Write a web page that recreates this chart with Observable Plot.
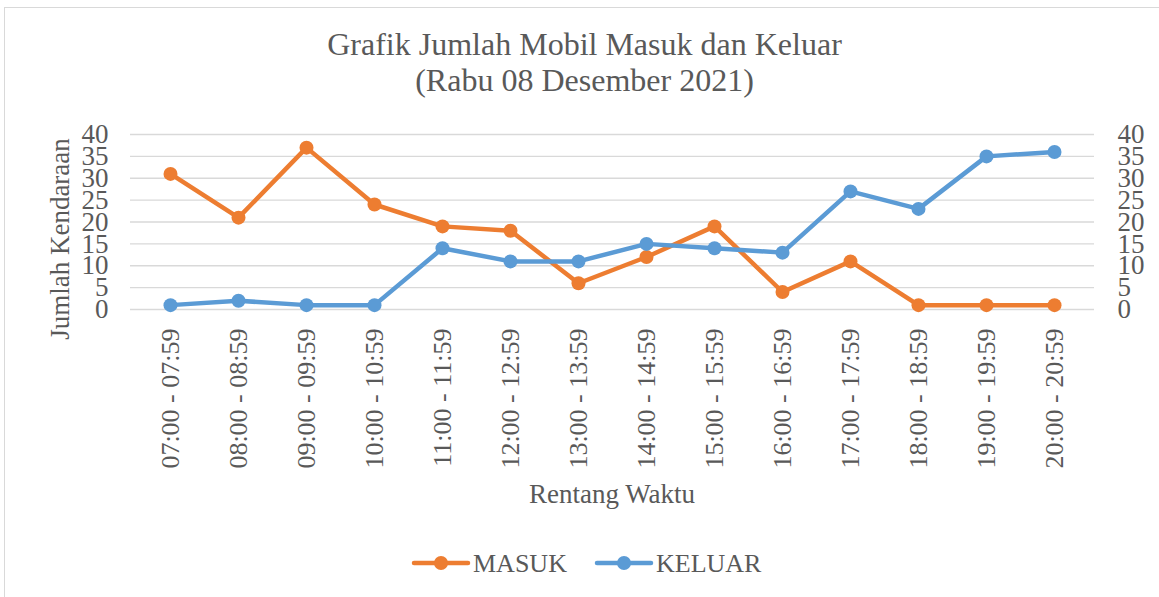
<!DOCTYPE html>
<html>
<head>
<meta charset="utf-8">
<script src="https://cdn.jsdelivr.net/npm/d3@7"></script>
<script src="https://cdn.jsdelivr.net/npm/@observablehq/plot@0.6"></script>
<style>
  body { margin: 0; background: #fff; font-family: "Liberation Serif", "Times New Roman", serif; }
  #wrap { position: relative; width: 1159px; height: 597px; overflow: hidden; }
  #frame { position: absolute; left: 4px; top: 7px; width: 1160px; height: 600px; border: 1px solid #d9d9d9; box-sizing: border-box; }
  .t { position: absolute; color: #595959; white-space: nowrap; font-family: "Liberation Serif", serif; }
  #plot { position: absolute; left: 0; top: 0; }
</style>
</head>
<body>
<div id="wrap">
  <div id="frame"></div>
  <div id="plot"></div>
  <div class="t" id="title" style="left:0;width:1169px;top:26px;text-align:center;font-size:32px;line-height:36px;">Grafik Jumlah Mobil Masuk dan Keluar<br>(Rabu 08 Desember 2021)</div>
  <div class="t" id="xlab" style="left:512px;width:200px;top:478px;text-align:center;font-size:27px;line-height:32px;">Rentang Waktu</div>
  <div class="t" id="ylab" style="left:-60px;top:223px;width:240px;text-align:center;font-size:27px;line-height:32px;transform:rotate(-90deg);">Jumlah Kendaraan</div>
  <div id="legend"></div>
</div>
<script>
const categories = ["07:00 - 07:59","08:00 - 08:59","09:00 - 09:59","10:00 - 10:59","11:00 - 11:59","12:00 - 12:59","13:00 - 13:59","14:00 - 14:59","15:00 - 15:59","16:00 - 16:59","17:00 - 17:59","18:00 - 18:59","19:00 - 19:59","20:00 - 20:59"];
const masuk = [31, 21, 37, 24, 19, 18, 6, 12, 19, 4, 11, 1, 1, 1];
const keluar = [1, 2, 1, 1, 14, 11, 11, 15, 14, 13, 27, 23, 35, 36];
const yTicks = [0, 5, 10, 15, 20, 25, 30, 35, 40];
const seriesNames = ["MASUK", "KELUAR"];
const seriesColors = ["#ED7D31", "#5B9BD5"];

const data = [];
categories.forEach((c, i) => {
  data.push({cat: c, value: masuk[i], series: seriesNames[0]});
  data.push({cat: c, value: keluar[i], series: seriesNames[1]});
});

const font = "Liberation Serif, serif";
const chart = Plot.plot({
  width: 1159,
  height: 597,
  marginTop: 134,
  marginBottom: 288,
  marginLeft: 130,
  marginRight: 65,
  style: {fontFamily: font, fontSize: "26px", color: "#595959", background: "transparent"},
  x: {type: "band", domain: categories, padding: 0, label: null},
  y: {domain: [0, 40], label: null},
  color: {domain: seriesNames, range: seriesColors},
  marks: [
    Plot.ruleY(yTicks, {stroke: "#d9d9d9", strokeWidth: 1.3}),
    Plot.axisY(yTicks, {anchor: "left", tickSize: 0, tickPadding: 22, label: null, fill: "#595959", fontSize: 27}),
    Plot.axisY(yTicks, {anchor: "right", tickSize: 0, tickPadding: 23, label: null, fill: "#595959", fontSize: 27, textAnchor: "start"}),
    Plot.axisX({anchor: "bottom", tickSize: 0, tickPadding: 19, tickRotate: -90, label: null, fill: "#595959", fontSize: 26}),
    Plot.line(data, {x: "cat", y: "value", z: "series", stroke: "series", strokeWidth: 4.5, strokeLinejoin: "round", strokeLinecap: "round"}),
    Plot.dot(data, {x: "cat", y: "value", fill: "series", r: 7, stroke: "none"})
  ]
});
document.getElementById("plot").appendChild(chart);

// legend
const lg = d3.select("#legend").append("svg")
  .attr("width", 1159).attr("height", 60)
  .style("position", "absolute").style("left", "0px").style("top", "535px");
const legendX = [413, 596];
seriesNames.forEach((n, i) => {
  const g = lg.append("g").attr("transform", `translate(${legendX[i]},28)`);
  g.append("line").attr("x1", 1).attr("x2", 55).attr("stroke", seriesColors[i]).attr("stroke-width", 4.5).attr("stroke-linecap", "round");
  g.append("circle").attr("cx", 28).attr("r", 7).attr("fill", seriesColors[i]);
  g.append("text").attr("x", 60).attr("y", 9).attr("fill", "#595959")
    .style("font-family", font).style("font-size", "26px").text(n);
});
</script>
</body>
</html>
